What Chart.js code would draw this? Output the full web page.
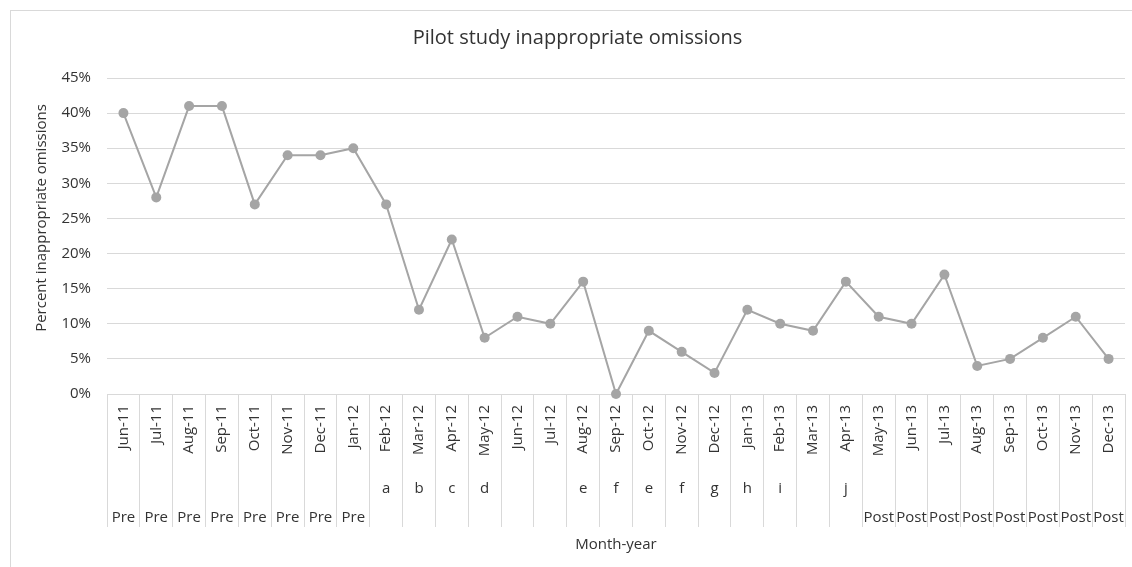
<!DOCTYPE html>
<html>
<head>
<meta charset="utf-8">
<script src="https://cdn.jsdelivr.net/npm/chart.js@4"></script>
<style>
  html, body { margin: 0; padding: 0; background: #fff; }
  #wrap { position: relative; width: 1132px; height: 567px; overflow: hidden; }
  #frame { position: absolute; left: 10px; top: 10px; width: 1200px; height: 600px; border: 1px solid #d9d9d9; pointer-events: none; }
</style>
</head>
<body>
<div id="wrap">
  <canvas id="omissionsChart" width="1132" height="567"></canvas>
  <div id="frame"></div>
</div>
<script>
  // Month of audit
  var months = [
    "Jun-11", "Jul-11", "Aug-11", "Sep-11", "Oct-11", "Nov-11", "Dec-11",
    "Jan-12", "Feb-12", "Mar-12", "Apr-12", "May-12", "Jun-12", "Jul-12",
    "Aug-12", "Sep-12", "Oct-12", "Nov-12", "Dec-12", "Jan-13", "Feb-13",
    "Mar-13", "Apr-13", "May-13", "Jun-13", "Jul-13", "Aug-13", "Sep-13",
    "Oct-13", "Nov-13", "Dec-13"
  ];

  // Percent inappropriate omissions per month
  var omissions = [
    40, 28, 41, 41, 27, 34, 34,
    35, 27, 12, 22, 8, 11, 10,
    16, 0, 9, 6, 3, 12, 10,
    9, 16, 11, 10, 17, 4, 5,
    8, 11, 5
  ];

  // Intervention markers (second label row)
  var changes = [
    "", "", "", "", "", "", "",
    "", "a", "b", "c", "d", "", "",
    "e", "f", "e", "f", "g", "h", "i",
    "", "j", "", "", "", "", "",
    "", "", ""
  ];

  // Study phase (third label row)
  var phases = [
    "Pre", "Pre", "Pre", "Pre", "Pre", "Pre", "Pre",
    "Pre", "", "", "", "", "", "",
    "", "", "", "", "", "", "",
    "", "", "Post", "Post", "Post", "Post", "Post",
    "Post", "Post", "Post"
  ];

  var yTitle = "Percent inappropriate omissions";

  var textColor = "#333333";
  var lineGrey = "#d9d9d9";
  var fontFamily = "'Open Sans', 'Noto Sans', sans-serif";

  Chart.defaults.font.family = fontFamily;
  Chart.defaults.color = textColor;

  // Excel puts the value-axis title a little above the middle of the axis
  var yTitlePlugin = {
    id: "yTitle",
    afterDraw: function (chart) {
      var y = chart.scales.y;
      var c = chart.ctx;
      c.save();
      c.fillStyle = textColor;
      c.font = "15px " + fontFamily;
      c.textAlign = "center";
      c.textBaseline = "middle";
      c.translate(y.left + 12, (y.top + y.bottom) / 2 - 18);
      c.rotate(-Math.PI / 2);
      c.fillText(yTitle, 0, 0);
      c.restore();
    },
  };

  var ctx = document.getElementById("omissionsChart").getContext("2d");
  new Chart(ctx, {
    type: "line",
    data: {
      labels: months,
      datasets: [
        {
          label: "Inappropriate omissions",
          data: omissions,
          borderColor: "#a5a5a5",
          backgroundColor: "#a5a5a5",
          borderWidth: 2,
          tension: 0,
          pointRadius: 5,
          pointBorderWidth: 0,
          pointBackgroundColor: "#a5a5a5",
          clip: false,
        },
      ],
    },
    plugins: [yTitlePlugin],
    options: {
      responsive: false,
      animation: false,
      layout: { padding: { left: 30, right: 7, top: 12, bottom: 13 } },
      plugins: {
        legend: { display: false },
        tooltip: { enabled: false },
        title: {
          display: true,
          text: "Pilot study inappropriate omissions",
          color: textColor,
          font: { size: 20, weight: "normal" },
          padding: { top: 14, bottom: 28 },
        },
      },
      scales: {
        y: {
          min: 0,
          max: 45,
          ticks: {
            stepSize: 5,
            padding: 16,
            font: { size: 15 },
            callback: function (v) { return v + "%"; },
          },
          grid: { color: lineGrey, lineWidth: 1, drawTicks: false },
          border: { display: false },
          afterFit: function (scale) { scale.width = 77; },
        },
        x: {
          position: "bottom",
          offset: true,
          ticks: {
            autoSkip: false,
            minRotation: 90,
            maxRotation: 90,
            padding: -122,
            font: { size: 15 },
          },
          grid: {
            offset: true,
            drawOnChartArea: false,
            color: lineGrey,
            tickLength: 133,
          },
          border: { display: true, color: lineGrey },
          afterFit: function (scale) { scale.height = 70; },
        },
        changes: {
          type: "category",
          position: "bottom",
          labels: changes,
          offset: true,
          ticks: { autoSkip: false, maxRotation: 0, padding: 8, font: { size: 15 } },
          grid: { display: false, offset: true },
          border: { display: false },
          afterFit: function (scale) { scale.height = 40; },
        },
        phases: {
          type: "category",
          position: "bottom",
          labels: phases,
          offset: true,
          ticks: { autoSkip: false, maxRotation: 0, padding: -3, font: { size: 15 } },
          grid: { display: false, offset: true },
          border: { display: false },
          title: {
            display: true,
            text: "Month-year",
            font: { size: 15 },
            padding: { top: 0, bottom: 0 },
          },
          afterFit: function (scale) { scale.height = 50; },
        },
      },
    },
  });
</script>
</body>
</html>
